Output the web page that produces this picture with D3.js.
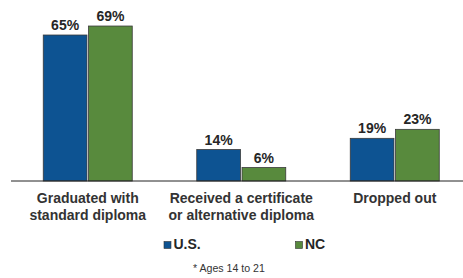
<!DOCTYPE html>
<html>
<head>
<meta charset="utf-8">
<title>Exit outcomes</title>
<style>
  body { margin: 0; background: #fff; }
  svg { font-family: "Liberation Sans", Arial, sans-serif; }
  .val { font-size: 14px; font-weight: bold; fill: #262626; }
  .cat { font-size: 14px; font-weight: bold; fill: #333; }
  .leg { font-size: 14px; font-weight: bold; fill: #262626; }
  .note { font-size: 10.6px; fill: #333; }
</style>
<script src="https://d3js.org/d3.v7.min.js"></script>
</head>
<body>
<div id="chart"></div>
<script>
// data
var categories = [["Graduated with", "standard diploma"],
                  ["Received a certificate", "or alternative diploma"],
                  ["Dropped out"]];
var seriesNames = ["U.S.", "NC"];
var usValues = [65, 14, 19];
var ncValues = [69, 6, 23];
var footnote = "* Ages 14 to 21";

var W = 463, H = 278;
var base = 181;
var colors = {"U.S.": "#0d5392", "NC": "#588a3d"};

var svg = d3.select("#chart").append("svg")
  .attr("width", W).attr("height", H);

var x0 = d3.scaleBand()
  .domain(d3.range(categories.length))
  .range([11, 471.5])
  .padding(0);

var x1 = d3.scaleBand()
  .domain(seriesNames)
  .range([-44.5, 44.5])
  .paddingInner(0.035);

var y = d3.scaleLinear()
  .domain([0, 100])
  .range([base, base - 224.6]);

var rows = categories.map(function(c, i) {
  return {i: i, vals: [{k: "U.S.", v: usValues[i]}, {k: "NC", v: ncValues[i]}]};
});

var groups = svg.selectAll("g.grp")
  .data(rows).enter().append("g")
  .attr("class", "grp")
  .attr("transform", function(d) { return "translate(" + (x0(d.i) + x0.bandwidth() / 2) + ",0)"; });

groups.selectAll("rect")
  .data(function(d) { return d.vals; })
  .enter().append("rect")
  .attr("x", function(d) { return x1(d.k); })
  .attr("y", function(d) { return y(d.v); })
  .attr("width", x1.bandwidth())
  .attr("height", function(d) { return base - y(d.v); })
  .attr("fill", function(d) { return colors[d.k]; })
  .attr("stroke", "#3a3a3a")
  .attr("stroke-width", 0.8);

groups.selectAll("text.val")
  .data(function(d) { return d.vals; })
  .enter().append("text")
  .attr("class", "val")
  .attr("text-anchor", "middle")
  .attr("x", function(d) { return x1(d.k) + x1.bandwidth() / 2; })
  .attr("y", function(d) { return y(d.v) - 5; })
  .text(function(d) { return d.v + "%"; });

// baseline
svg.append("line")
  .attr("x1", 11).attr("x2", W)
  .attr("y1", base).attr("y2", base)
  .attr("stroke", "#222").attr("stroke-width", 1);

// category labels
groups.append("text")
  .attr("class", "cat")
  .attr("text-anchor", "middle")
  .attr("y", 203)
  .selectAll("tspan")
  .data(function(d) { return categories[d.i]; })
  .enter().append("tspan")
  .attr("x", 0)
  .attr("dy", function(d, i) { return i ? 16.5 : 0; })
  .text(function(d) { return d; });

// legend
var legX = [164, 295.5];
var leg = svg.selectAll("g.leg")
  .data(seriesNames).enter().append("g")
  .attr("transform", function(d, i) { return "translate(" + legX[i] + ",241.5)"; });
leg.append("rect")
  .attr("width", 7).attr("height", 7)
  .attr("fill", function(d) { return colors[d]; })
  .attr("stroke", "#333").attr("stroke-width", 0.6);
leg.append("text")
  .attr("class", "leg")
  .attr("x", 9.5).attr("y", 7.5)
  .text(function(d) { return d; });

svg.append("text")
  .attr("class", "note")
  .attr("x", 193).attr("y", 272)
  .text(footnote);
</script>
</body>
</html>
